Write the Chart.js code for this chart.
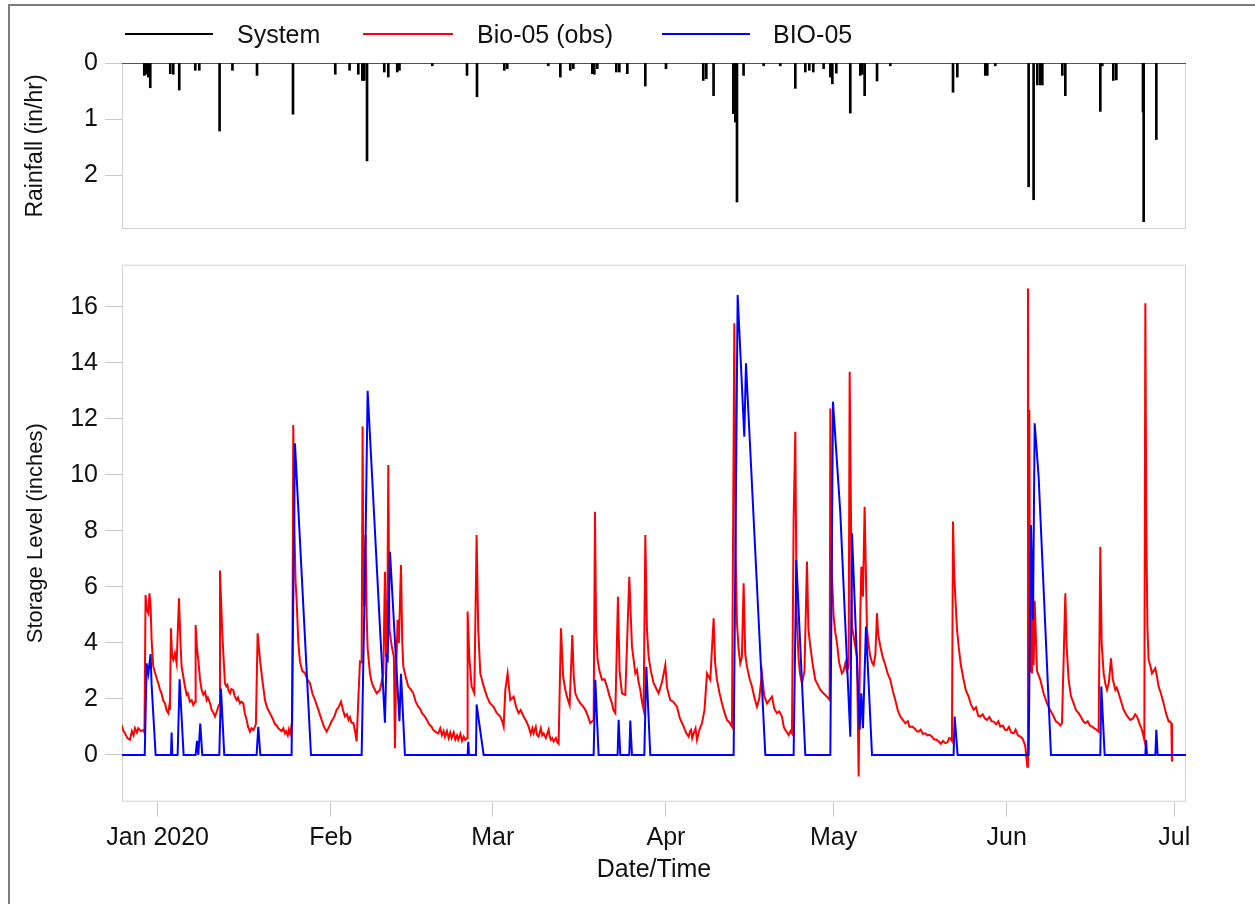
<!DOCTYPE html>
<html>
<head>
<meta charset="utf-8">
<script src="https://cdn.jsdelivr.net/npm/chart.js@4.4.1/dist/chart.umd.min.js"></script>
<style>
  html, body { margin: 0; padding: 0; background: #fff; }
  body { width: 1255px; height: 904px; position: relative; overflow: hidden; font-family: 'Liberation Sans', Arial, sans-serif; }
  #frame { position: absolute; left: 8px; top: 4px; width: 1300px; height: 1000px; border-left: 2px solid #7d7d7d; border-top: 2px solid #7d7d7d; }
  canvas { position: absolute; left: 0; }
  #rainChart { top: 0; }
  #levelChart { top: 240px; }
  .key { position: absolute; top: 33px; height: 2px; }
  .keyText { position: absolute; top: 22px; font-size: 25px; line-height: 25px; color: #111; white-space: nowrap; }
</style>
</head>
<body>
<div id="frame"></div>
<canvas id="rainChart" width="1255" height="240"></canvas>
<canvas id="levelChart" width="1255" height="664"></canvas>

<div class="key" style="left:125px;width:88px;background:#000"></div>
<div class="keyText" style="left:237px">System</div>
<div class="key" style="left:363px;width:90px;background:#ff0000"></div>
<div class="keyText" style="left:477px">Bio-05 (obs)</div>
<div class="key" style="left:662px;width:88px;background:#0000ff"></div>
<div class="keyText" style="left:773px">BIO-05</div>

<script>
// days counted from 2020-01-01 00:00
const xMin = -6.37, xMax = 184.1;
const monthStarts = [0, 31, 60, 91, 121, 152, 182];
const monthLabels = ['Jan 2020', 'Feb', 'Mar', 'Apr', 'May', 'Jun', 'Jul'];
const rainTicks = [0, 1, 2];
const levelTicks = [0, 2, 4, 6, 8, 10, 12, 14, 16];

// rainfall intensity, in/hr
const rainDay = [-2.38, -2.02, -1.66, -1.31, 2.27, 2.81, 3.88, 6.75, 7.47, 11.1, 13.4, 17.8, 24.24, 31.81, 34.37, 35.93,
  36.65, 37.0, 37.49, 40.58, 41.3, 42.9, 43.3, 49.18, 55.39, 57.18, 62.07, 62.6, 69.94, 72.1, 73.88, 74.42, 77.82, 78.18,
  78.72, 82.12, 82.66, 84.09, 87.31, 91.01, 97.69, 98.23, 99.53, 103.06, 103.42, 103.72, 104.9, 108.49, 111.47, 114.16,
  115.95, 116.67, 117.38, 119.23, 120.43, 120.79, 121.5, 124.0, 125.8, 126.15, 126.57, 128.79, 131.17, 142.39, 143.16,
  148.17, 148.53, 149.96, 155.93, 156.82, 157.48, 158.02, 158.38, 161.96, 162.5, 168.76, 169.12, 171.09, 171.63, 176.4,
  176.52, 178.79];
const rainIn = [0.22, 0.2, 0.25, 0.44, 0.19, 0.2, 0.48, 0.13, 0.13, 1.21, 0.13, 0.22, 0.91, 0.2, 0.13, 0.2,
  0.31, 0.31, 1.74, 0.16, 0.25, 0.16, 0.13, 0.05, 0.22, 0.6, 0.13, 0.1, 0.05, 0.25, 0.13, 0.1, 0.19, 0.2,
  0.1, 0.16, 0.16, 0.19, 0.41, 0.1, 0.31, 0.28, 0.58, 0.9, 1.05, 2.47, 0.22, 0.05, 0.05, 0.45,
  0.16, 0.13, 0.16, 0.1, 0.25, 0.37, 0.18, 0.89, 0.22, 0.2, 0.58, 0.32, 0.05, 0.52, 0.25,
  0.22, 0.22, 0.05, 2.2, 2.43, 0.39, 0.39, 0.39, 0.22, 0.58, 0.86, 0.05, 0.31, 0.3, 0.87,
  2.82, 1.36];

// observed storage level, inches (one line per storm and recession)
const obsDay = [-6.44, -6.1, -5.84, -5.4, -4.95, -4.6, -4.3, -4.05, -3.7, -3.46, -3.0, -2.56, -2.35,
  -2.15, -1.96, -1.66, -1.45, -1.25, -1.07, -0.77, -0.4, -0.1, 0.13, 0.4, 0.7, 1.0, 1.32, 1.6, 1.92, 2.1, 2.21,
  2.39, 2.6, 2.81, 3.11, 3.41, 3.83, 4.1, 4.3, 4.6, 4.9, 5.2, 5.4, 5.79, 6.1, 6.39, 6.7,
  6.81, 7.05, 7.29, 7.6, 7.88, 8.2, 8.5, 8.78, 9.0, 9.2, 9.45, 9.67, 10.0, 10.27, 10.6, 10.87, 11.05,
  11.17, 11.58, 12.06, 12.3, 12.5, 12.7, 12.96, 13.2, 13.55, 13.8, 14.15, 14.4, 14.75, 15.0, 15.34, 15.6, 15.94, 16.2, 16.54, 16.8, 17.13, 17.4, 17.6,
  17.91, 18.33, 18.8, 19.0, 19.22, 19.5, 19.8, 20.1, 20.41, 20.7, 21.0, 21.3, 21.61, 21.9, 22.2, 22.5, 22.8, 23.0, 23.3, 23.5, 23.7, 23.9, 24.1,
  24.29, 24.5, 24.7, 24.89, 25.2, 25.49, 25.9, 26.38, 26.8, 27.28, 27.7, 28.17, 28.8, 29.36, 29.8, 30.26, 30.7, 31.15, 31.6, 32.05, 32.4, 32.83, 33.2, 33.54, 33.9, 34.2, 34.44, 34.7, 35.03, 35.3, 35.63, 35.93, 36.23, 36.53,
  36.7, 36.85, 37.0, 37.24, 37.42, 37.6, 38.02, 38.32, 38.61, 39.21, 39.81, 40.41, 40.7, 40.9, 41.1, 41.3, 41.5, 41.9, 42.3, 42.49, 42.7, 42.97, 43.2, 43.57, 43.8,
  43.99, 44.4, 44.88, 45.3, 45.78, 46.2, 46.67, 47.0, 47.3, 47.86, 48.2, 48.6, 49.06, 49.3, 49.6, 49.9, 50.25, 50.6, 50.9, 51.2, 51.45, 51.8, 52.1, 52.4, 52.64, 53.0, 53.3, 53.6, 53.83, 54.2, 54.5, 54.8, 55.03, 55.4,
  55.5, 55.8, 56.22, 56.7, 57.11, 57.4,
  57.77, 58.3, 58.96, 59.5, 60.16, 60.7, 61.35, 61.7, 61.95, 62.25, 62.66, 63.14, 63.74, 64.2, 64.63, 65.0, 65.53, 66.0, 66.42, 66.8, 67.1, 67.32, 67.7, 67.95, 68.21, 68.6, 68.85, 69.11, 69.5, 70.0, 70.2, 70.4, 70.65, 70.9, 71.3, 71.55, 71.79,
  72.21, 72.6, 72.99, 73.4, 73.76, 74.24, 74.5, 74.78, 75.2, 75.67, 76.1, 76.57, 77.0, 77.46, 78.06,
  78.3, 78.5, 78.77, 79.1, 79.55, 80.0, 80.45, 80.9, 81.34, 81.6, 81.94,
  82.41, 82.7, 83.13, 83.73, 84.44, 84.92, 85.52, 85.82, 86.1, 86.41, 86.7, 87.01,
  87.31, 87.6, 87.9, 88.3, 88.8, 89.2, 89.69, 90.3, 90.89, 91.2, 91.78, 92.3, 92.98, 93.5, 94.17, 94.6, 95.06, 95.3, 95.5, 95.7, 95.96, 96.3, 96.56, 96.8, 97.0, 97.2, 97.45, 97.9,
  98.35, 98.94, 99.54, 99.8, 100.14, 100.6, 101.03, 101.5, 101.93, 102.4, 102.82,
  103.24, 103.5, 103.72, 104.0, 104.31, 104.6, 104.91, 105.2, 105.51, 106.0, 106.4, 106.9, 107.3, 107.7, 108.19, 108.6, 109.09, 109.5, 109.98, 110.4, 110.88, 111.3, 111.77, 112.1, 112.37, 112.7, 112.97, 113.3, 113.56,
  113.86, 114.16, 114.4, 114.76, 115.0, 115.35, 115.8, 116.25, 116.5, 116.85, 117.3, 117.74, 118.2, 118.64, 119.2, 119.83, 120.31,
  120.43, 120.7, 121.02, 121.3, 121.62, 122.0, 122.51, 122.8, 123.11, 123.4, 123.71,
  123.89, 124.31, 124.9, 125.2, 125.5, 125.8, 125.98, 126.27, 126.57, 126.99, 127.3, 127.59, 127.9, 128.18, 128.5, 128.78, 129.0, 129.38, 129.8, 130.27, 130.7, 131.17, 131.6, 132.06, 132.5, 132.96, 133.4, 133.85, 134.3, 134.6, 135.05, 135.5, 135.9, 136.24, 136.6, 137.0, 137.43, 137.8, 138.2, 138.63, 139.0, 139.4, 139.82, 140.2, 140.6, 141.01, 141.4, 141.7, 141.91, 142.2,
  142.39, 142.6, 142.8, 143.1, 143.4, 143.8, 144.29, 144.7, 145.19, 145.6, 146.08, 146.5, 146.9, 147.28, 147.7, 148.1, 148.47, 148.9, 149.3, 149.67, 150.1, 150.5, 150.86, 151.3, 151.7, 152.05, 152.4, 152.8, 153.25, 153.6, 154.0, 154.44, 154.8, 155.1, 155.33, 155.69,
  155.81, 155.93, 156.05, 156.2, 156.35, 156.53, 156.71, 156.83, 157.01, 157.42, 158.02, 158.6, 159.21, 159.8, 160.41, 160.8, 161.3, 161.6, 161.9,
  162.5, 162.7, 163.09, 163.5, 163.99, 164.4, 164.88, 165.3, 165.7, 166.07, 166.5, 166.9, 167.27, 167.7, 168.1, 168.46,
  168.76, 169.0, 169.36, 169.7, 169.96, 170.3, 170.67, 171.0, 171.45, 171.7, 172.04, 172.5, 172.94, 173.5, 174.13, 174.6, 175.0, 175.33, 175.8, 176.22, 176.64,
  176.82, 177.0, 177.2, 177.41, 177.7, 178.01, 178.3, 178.61, 178.9, 179.2, 179.6, 180.1, 180.5, 180.99, 181.2, 181.47, 181.59];
const obsLevel = [1.07, 0.85, 0.77, 0.6, 0.54, 0.85, 0.7, 0.95, 0.8, 0.95, 0.85, 0.89, 0.8,
  5.71, 5.2, 5.06, 5.77, 5.3, 4.1, 3.15, 2.9, 2.7, 2.56, 2.35, 2.2, 1.95, 1.84, 1.6, 1.49, 1.75, 1.6,
  4.52, 3.5, 3.39, 3.63, 3.27, 5.59, 4.0, 3.15, 2.8, 2.44, 2.15, 2.2, 1.9, 1.95, 1.78, 1.9,
  4.64, 3.8, 3.39, 2.7, 2.32, 2.15, 2.25, 1.96, 2.05, 1.95, 1.8, 1.61, 1.5, 1.37, 1.55, 1.72, 1.8,
  6.58, 4.34, 2.56, 2.45, 2.5, 2.3, 2.2, 2.35, 2.32, 2.1, 1.96, 2.05, 1.84, 1.9, 1.84, 1.5, 1.25, 1.0, 0.83, 0.95, 0.89, 1.0, 1.1,
  4.34, 3.39, 2.6, 2.3, 1.96, 1.75, 1.6, 1.5, 1.37, 1.25, 1.1, 1.05, 0.95, 0.9, 0.85, 0.95, 0.77, 0.85, 0.7, 0.9, 0.75, 0.95, 1.2,
  11.78, 8.0, 6.2, 5.53, 4.0, 3.33, 3.0, 2.92, 2.7, 2.56, 2.2, 1.96, 1.6, 1.25, 1.0, 0.83, 1.0, 1.2, 1.35, 1.61, 1.7, 1.9, 1.6, 1.37, 1.45, 1.25, 1.35, 1.15, 1.15, 0.9, 0.48, 1.96, 3.33, 3.3,
  11.72, 6.0, 5.3, 7.85, 5.0, 3.8, 2.9, 2.6, 2.44, 2.2, 2.32, 2.9, 6.54, 3.5, 4.0, 10.35, 4.5, 3.9, 3.5, 0.24, 3.0, 4.82, 4.0, 6.78, 4.0,
  3.15, 2.8, 2.44, 2.35, 2.2, 1.9, 1.72, 1.65, 1.5, 1.37, 1.25, 1.1, 1.0, 0.9, 0.85, 0.8, 0.77, 0.95, 0.7, 0.85, 0.65, 0.85, 0.6, 0.8, 0.6, 0.8, 0.55, 0.7, 0.54, 0.75, 0.5, 0.65, 0.54, 0.6,
  5.12, 3.5, 2.44, 2.2, 7.85, 4.5,
  2.91, 2.5, 2.08, 1.85, 1.72, 1.5, 1.37, 1.2, 1.01, 2.32, 2.91, 1.96, 2.08, 1.7, 1.49, 1.6, 1.37, 1.2, 1.01, 0.75, 0.95, 0.77, 1.0, 0.7, 0.65, 0.95, 0.7, 0.77, 0.6, 0.9, 0.65, 0.54, 0.6, 0.48, 0.6, 0.45, 0.4,
  4.52, 2.8, 2.32, 2.0, 1.78, 4.28, 2.8, 2.2, 2.0, 1.84, 1.75, 1.61, 1.4, 1.13, 1.25,
  8.68, 4.5, 3.39, 3.0, 2.68, 2.7, 2.44, 2.1, 1.84, 1.6, 1.49,
  5.65, 3.0, 2.2, 2.14, 6.36, 3.87, 2.91, 3.03, 2.6, 2.32, 1.9, 1.61,
  7.85, 4.5, 3.51, 3.0, 2.56, 2.4, 2.2, 2.6, 3.21, 2.4, 1.96, 1.9, 1.72, 1.3, 1.01, 0.8, 0.65, 0.85, 0.9, 0.6, 0.77, 0.95, 0.54, 0.75, 0.9, 1.0, 1.13, 1.6,
  2.91, 2.68, 4.88, 3.3, 2.68, 2.2, 1.84, 1.5, 1.25, 1.15, 1.01,
  15.41, 7.0, 4.7, 3.8, 3.27, 3.5, 6.13, 3.6, 3.15, 2.7, 2.44, 2.0, 1.72, 2.0, 2.91, 2.1, 1.84, 1.95, 2.08, 1.65, 1.49, 1.55, 1.37, 1.0, 0.89, 0.8, 0.71, 0.85, 0.77,
  8.39, 11.54, 5.0, 3.39, 2.9, 2.56, 3.0, 6.9, 4.5, 3.87, 3.2, 2.68, 2.5, 2.32, 2.2, 2.08, 1.96,
  12.37, 6.5, 4.94, 4.4, 3.99, 3.3, 2.91, 3.0, 3.27, 3.0, 3.15,
  13.68, 4.58, 3.87, 3.5, -0.77, 5.06, 6.72, 5.65, 8.86, 4.46, 3.9, 3.51, 3.3, 3.21, 3.6, 5.06, 4.3, 3.87, 3.5, 3.21, 2.9, 2.68, 2.3, 1.96, 1.6, 1.37, 1.25, 1.13, 1.2, 1.0, 1.01, 0.95, 0.85, 0.83, 0.9, 0.75, 0.77, 0.7, 0.72, 0.65, 0.55, 0.55, 0.48, 0.4, 0.5, 0.42, 0.45, 0.6, 0.59, 0.5,
  8.33, 6.5, 5.65, 4.5, 3.87, 3.2, 2.68, 2.3, 2.08, 1.8, 1.61, 1.7, 1.4, 1.37, 1.45, 1.3, 1.25, 1.35, 1.2, 1.19, 1.1, 1.2, 1.01, 1.05, 0.9, 0.89, 1.0, 0.8, 0.77, 0.9, 0.7, 0.65, 0.6, 0.45, 0.3, -0.42,
  16.65, 3.0, 12.31, 3.0, 8.0, 2.91, 6.01, 3.2, 5.5, 3.0, 2.68, 2.2, 1.84, 1.6, 1.37, 1.2, 1.13, 1.05, 1.13,
  5.77, 4.0, 2.68, 2.1, 1.84, 1.6, 1.49, 1.35, 1.2, 1.13, 1.2, 1.05, 1.01, 0.95, 0.9, 0.83,
  7.43, 4.0, 2.91, 2.5, 2.32, 2.6, 3.45, 2.7, 2.32, 2.4, 2.2, 1.9, 1.61, 1.4, 1.25, 1.3, 1.45, 1.37, 1.1, 0.89, 0.54,
  16.12, 8.0, 4.5, 3.39, 3.2, 2.91, 3.0, 3.09, 2.8, 2.44, 2.2, 1.84, 1.5, 1.19, 1.2, 1.13, -0.24];

// simulated storage level, inches
const simDay = [-6.4, -2.3, -1.96, -1.66, -1.25, -1.07, -0.35, 2.39, 2.51, 2.63, 3.59, 3.94, 4.66,
  6.81, 7.05, 7.29, 7.4, 7.64, 8.0, 11.05, 11.34, 11.94, 17.73, 18.03, 18.39, 23.99, 24.59, 27.46,
  36.53, 37.24, 37.6, 40.7, 41.0, 41.18, 41.6, 43.3, 43.57, 44.28, 55.5, 55.62, 55.75, 57.0, 57.11, 58.37,
  78.06, 78.36, 78.95, 82.35, 82.53, 82.83, 84.44, 84.62, 84.92, 87.13, 87.49, 88.2,
  103.12, 103.84, 105.03, 105.33, 108.79, 113.86, 114.34, 115.95,
  120.43, 120.9, 122.22, 124.01, 124.31, 125.68, 125.98, 126.27, 126.81, 127.89,
  142.5, 142.68, 143.22, 155.93, 156.35, 156.71, 157.01, 157.72, 159.93,
  168.76, 168.94, 169.54, 176.82, 176.94, 177.12, 178.61, 178.79, 179.02, 184.1];
const simLevel = [0, 0, 3.27, 2.9, 3.6, 2.5, 0, 0, 0.8, 0, 0, 2.7, 0,
  0, 0.5, 0, 0, 1.12, 0, 0, 2.37, 0, 0, 1.0, 0, 0, 11.12, 0,
  0, 7.8, 13.0, 1.15, 3.6, 3.3, 7.25, 1.2, 2.9, 0, 0, 0.47, 0, 0, 1.8, 0,
  0, 2.68, 0, 0, 1.25, 0, 0, 1.23, 0, 0, 3.15, 0,
  0, 16.42, 11.36, 13.98, 0, 0, 6.96, 0,
  0, 12.61, 8.63, 0.65, 7.91, 0.89, 2.2, 0.95, 4.58, 0,
  0, 1.37, 0, 0, 8.21, 4.82, 11.84, 9.93, 0,
  0, 2.44, 0, 0, 0.54, 0, 0, 0.9, 0, 0];

function pairs(xs, ys) {
  return xs.map((x, i) => ({ x: x, y: ys[i] }));
}

Chart.defaults.font.family = "'Liberation Sans', Arial, sans-serif";
Chart.defaults.color = '#111';

// thin box around each plot area, optional darker top edge
const frame = {
  id: 'frame',
  beforeDatasetsDraw(chart, args, opts) {
    const a = chart.chartArea, ctx = chart.ctx;
    ctx.save();
    ctx.lineWidth = 1;
    ctx.strokeStyle = '#d2d2d2';
    ctx.strokeRect(a.left + 0.5, a.top + 0.5, a.right - a.left - 1, a.bottom - a.top - 1);
    if (opts.topColor) {
      ctx.strokeStyle = opts.topColor;
      ctx.beginPath();
      ctx.moveTo(a.left, a.top + 0.5);
      ctx.lineTo(a.right, a.top + 0.5);
      ctx.stroke();
    }
    ctx.restore();
  }
};

// fixed axis width so both panels line up; labels may overhang the plot edges
function fixWidth(s) {
  s.width = 122;
  s.paddingTop = 0;
  s.paddingBottom = 0;
}

const yGrid = { drawOnChartArea: false, tickLength: 17, color: '#c8c8c8' };

new Chart(document.getElementById('rainChart'), {
  type: 'bar',
  data: {
    datasets: [{
      label: 'System',
      data: pairs(rainDay, rainIn),
      backgroundColor: '#000',
      barThickness: 2,
      grouped: false
    }]
  },
  options: {
    responsive: false,
    animation: false,
    layout: { padding: { top: 63, bottom: 11, left: 0, right: 69 } },
    plugins: { legend: { display: false }, tooltip: { enabled: false }, frame: { topColor: '#555' } },
    scales: {
      x: { type: 'linear', display: false, min: xMin, max: xMax, offset: false },
      y: {
        reverse: true, min: 0, max: 2.95,
        afterFit: fixWidth,
        afterBuildTicks: s => { s.ticks = rainTicks.map(v => ({ value: v })); },
        ticks: { font: { size: 25 }, padding: 7 },
        grid: yGrid,
        border: { display: false },
        title: { display: true, text: 'Rainfall (in/hr)', font: { size: 23 }, padding: { top: 22 } }
      }
    }
  },
  plugins: [frame]
});

new Chart(document.getElementById('levelChart'), {
  type: 'line',
  data: {
    datasets: [{
      label: 'Bio-05 (obs)',
      data: pairs(obsDay, obsLevel),
      borderColor: '#ff0000',
      borderWidth: 2,
      pointRadius: 0,
      tension: 0,
      order: 1
    }, {
      label: 'BIO-05',
      data: pairs(simDay, simLevel),
      borderColor: '#0000ff',
      borderWidth: 2,
      pointRadius: 0,
      tension: 0,
      order: 0
    }]
  },
  options: {
    responsive: false,
    animation: false,
    layout: { padding: { top: 24.7, bottom: 0, left: 0, right: 69 } },
    plugins: { legend: { display: false }, tooltip: { enabled: false }, frame: {} },
    scales: {
      x: {
        type: 'linear', min: xMin, max: xMax,
        afterFit: s => { s.height = 102.3; s.paddingLeft = 0; s.paddingRight = 0; },
        afterBuildTicks: s => { s.ticks = monthStarts.map(v => ({ value: v })); },
        ticks: {
          font: { size: 25 }, padding: 6, maxRotation: 0, autoSkip: false,
          callback: v => monthLabels[monthStarts.indexOf(v)]
        },
        grid: { drawOnChartArea: false, tickLength: 15, color: '#c8c8c8' },
        border: { display: false },
        title: { display: true, text: 'Date/Time', font: { size: 25 }, padding: { top: 0, bottom: 19 } }
      },
      y: {
        min: -1.67, max: 17.5,
        afterFit: fixWidth,
        afterBuildTicks: s => { s.ticks = levelTicks.map(v => ({ value: v })); },
        ticks: { font: { size: 25 }, padding: 7 },
        grid: yGrid,
        border: { display: false },
        title: { display: true, text: 'Storage Level (inches)', font: { size: 22 }, padding: { top: 23 } }
      }
    }
  },
  plugins: [frame]
});
</script>
</body>
</html>
